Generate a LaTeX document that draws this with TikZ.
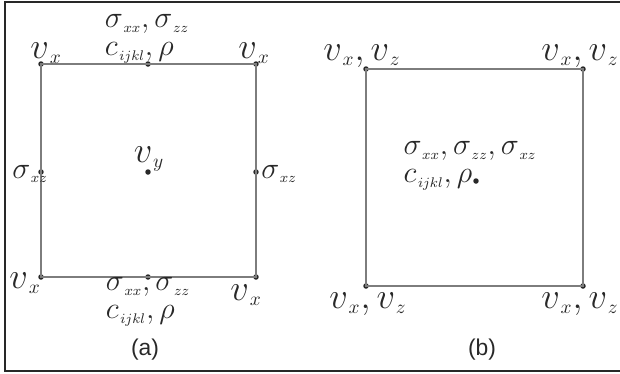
\documentclass[tikz,border=0pt]{standalone}
\usepackage{fontspec}
\newfontfamily\capfont{Liberation Sans}
\usetikzlibrary{positioning}
\definecolor{EdgeGray}{RGB}{125,125,125}
\definecolor{InkGray}{RGB}{40,40,40}
\newcommand{\low}[1]{_{\scriptscriptstyle\mkern2mu #1}}

\begin{document}
\begin{tikzpicture}[x=0.02cm,y=-0.02cm,
  grd/.style={circle,fill=InkGray,inner sep=0pt,minimum size=0.11cm},
  edge/.style={draw=EdgeGray,line width=1.1pt},
  vlab/.style={font=\fontsize{21}{22}\selectfont,text=InkGray,inner sep=0pt},
  slab/.style={font=\fontsize{17}{16}\selectfont,text=InkGray,inner sep=0pt,align=left},
  sublabel/.style={font=\capfont\fontsize{13}{15}\selectfont,text=InkGray},
]
\useasboundingbox (0,0) rectangle (620,373);
\draw[line width=1.7pt,InkGray] (620,2) -- (5,2) -- (5,371) -- (620,371);

% (a) cell with staggered unknowns
\node[grd] (a1) at (41,64) {};
\node[grd] (a2) at (256,64) {};
\node[grd] (a3) at (41,277) {};
\node[grd] (a4) at (256,277) {};
\node[grd] (at) at (148,64) {};
\node[grd] (ab) at (148,277) {};
\node[grd] (al) at (41,172) {};
\node[grd] (ar) at (256,172) {};
\node[grd] (ac) at (148,172) {};
\draw[edge] (a1.center) -- (a2.center) -- (a4.center) -- (a3.center) -- cycle;

\node[vlab] (la1) at (46,53) {$v\low{x}$};
\node[vlab] (la2) at (254,53) {$v\low{x}$};
\node[vlab] (la3) at (25,283) {$v\low{x}$};
\node[vlab] (la4) at (246,295) {$v\low{x}$};
\node[vlab] (lac) at (149,159) {$v\low{y}$};
\node[slab] (lat) at (147,39) {$\sigma\low{xx},\sigma\low{zz}$\\$c\low{ijkl},\rho$};
\node[slab] (lab) at (148,302) {$\sigma\low{xx},\sigma\low{zz}$\\$c\low{ijkl},\rho$};
\node[slab] (lal) at (30,174) {$\sigma\low{xz}$};
\node[slab] (lar) at (279,174) {$\sigma\low{xz}$};
\node[sublabel] (capa) at (145,350) {(a)};

% (b) cell with collocated unknowns
\node[grd] (b1) at (366,69) {};
\node[grd] (b2) at (583,69) {};
\node[grd] (b3) at (366,286) {};
\node[grd] (b4) at (583,286) {};
\node[grd] (bc) at (476,181) {};
\draw[edge] (b1.center) -- (b2.center) -- (b4.center) -- (b3.center) -- cycle;

\node[vlab] (lb1) at (362,56) {$v\low{x},v\low{z}$};
\node[vlab] (lb2) at (580,56) {$v\low{x},v\low{z}$};
\node[vlab] (lb3) at (368,304) {$v\low{x},v\low{z}$};
\node[vlab] (lb4) at (580,304) {$v\low{x},v\low{z}$};
\node[slab] (lbc) at (470,166) {$\sigma\low{xx},\sigma\low{zz},\sigma\low{xz}$\\$c\low{ijkl},\rho$};
\node[sublabel] (capb) at (482,350) {(b)};
\end{tikzpicture}
\end{document}
